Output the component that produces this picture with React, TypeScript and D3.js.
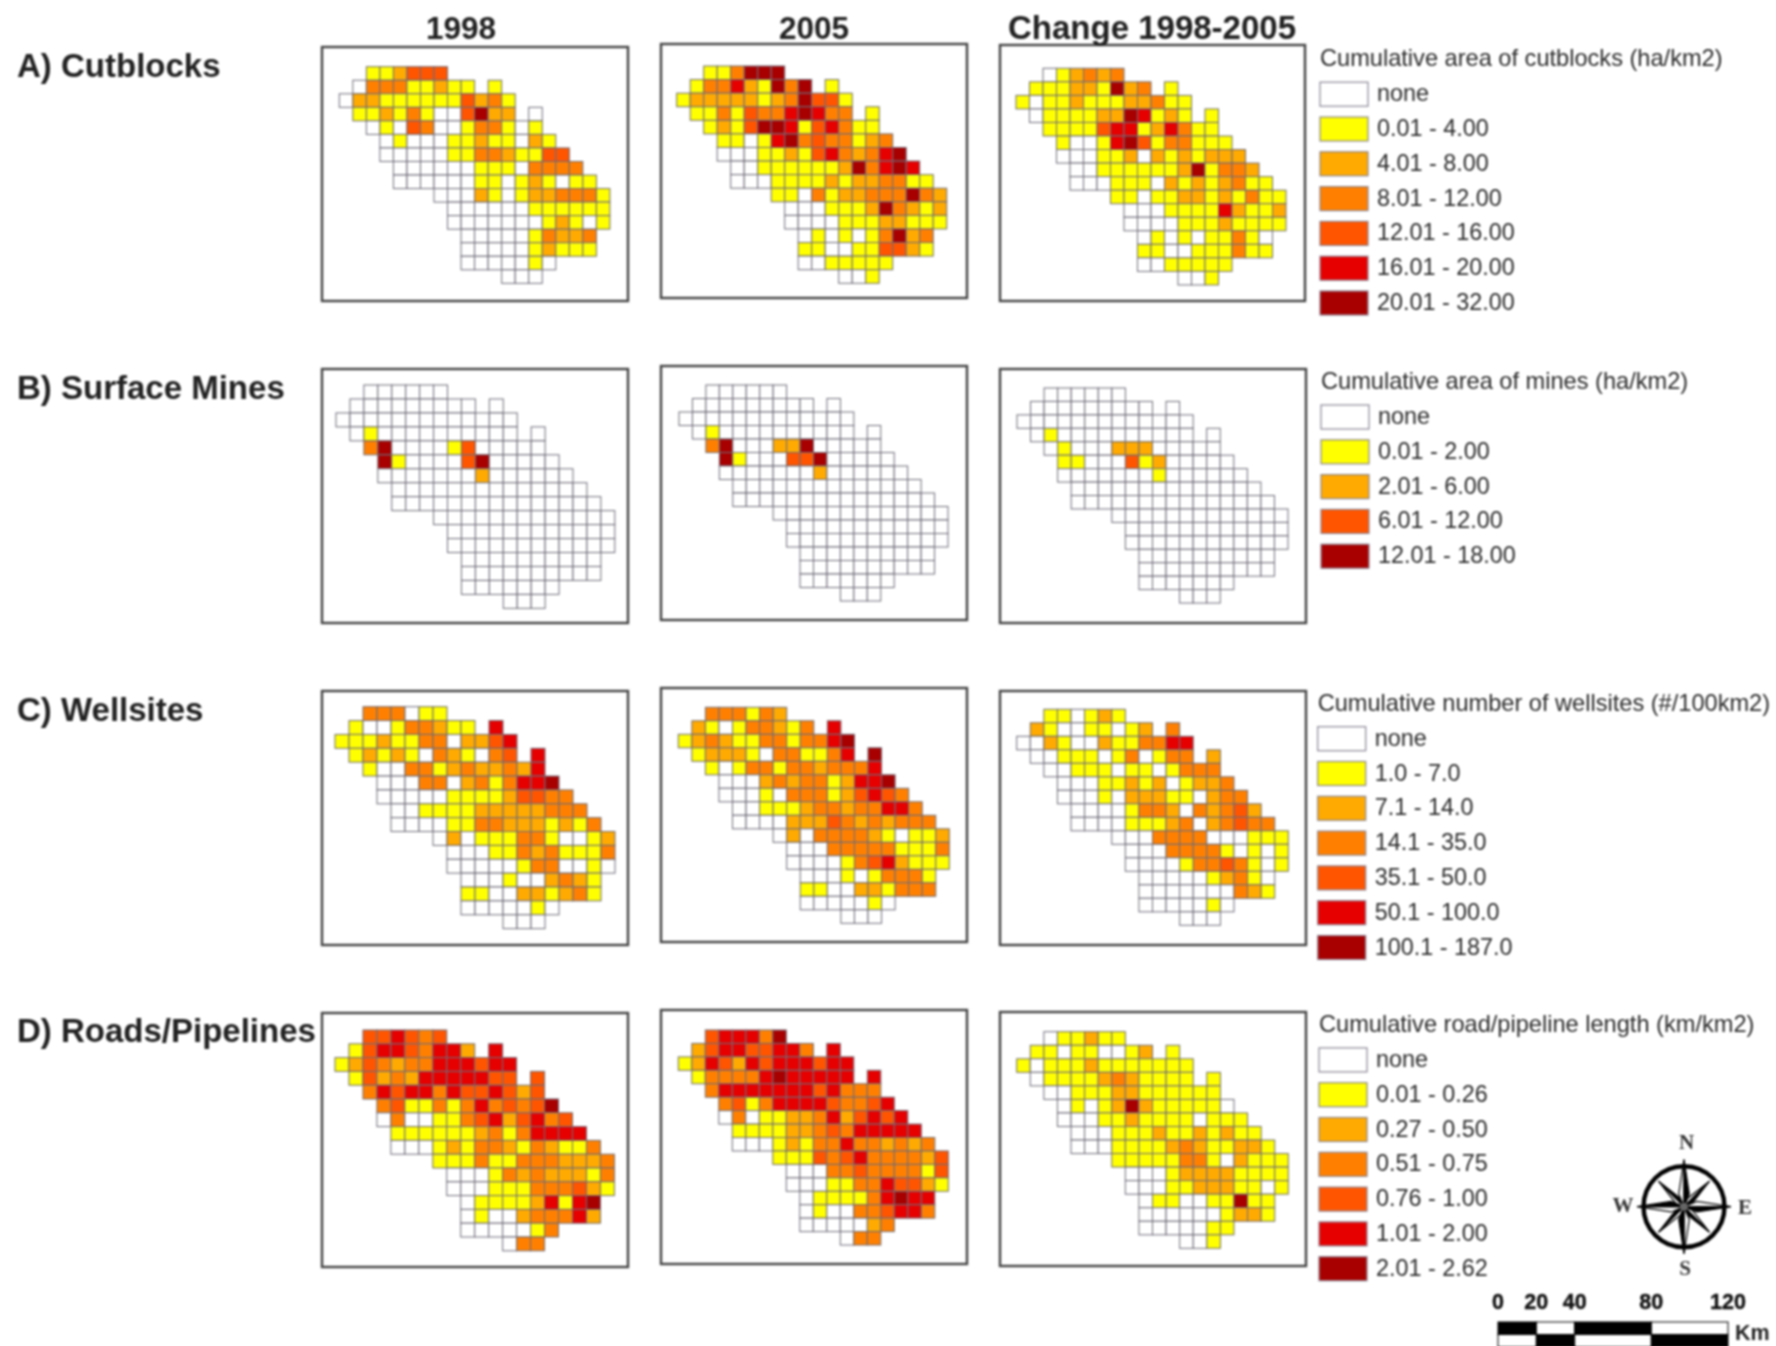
import React from "react";
import * as d3 from "d3";

// ---------- data: class of every grid cell (row string starts at rowStart[row]; "." = no cell) ----------
const rowStart = [2, 1, 0, 1, 2, 3, 3, 4, 4, 7, 8, 8, 9, 9, 9, 12];

const cutblocks1998 = ["112444","033311211.1","0221111114231","112131004622.0","0104300133101","0100011211021","00000113321144","00000011103333","000000110121011","0002101223331","000000111111","000000012101","0000013223","0000012111","0000010","000"];
const cutblocks2005 = ["113666","133521636.1","1222221236441","113143356533.1","1214665145311","1101563433123","00011214532356","00111111263565","000111121223311","1103122333632","000111263212","000011122111","0101013623","1100114421","0011111","001"];
const cutblocksChange = ["012323","111221623.1","1011211122311","011112265121.1","1111455125311","1001564133111","00011202121222","00111111261332","000111021212311","1101122121311","000111152112","000011121111","0101011310","1100111311","0011111","001"];

const mines1998 = ["000000","000000000.0","0000000000000","010000000000.0","3600001400000","6100004600000","00000002000000","00000000000000","000000000000000","0000000000000","000000000000","000000000000","0000000000","0000000000","0000000","000"];
const mines2005 = ["000000","000000000.0","0000000000000","010000000000.0","3600022600000","6100044600000","00000002000000","00000000000000","000000000000000","0000000000000","000000000000","000000000000","0000000000","0000000000","0000000","000"];
const minesChange = ["000000","000000000.0","0000000000000","010000000000.0","0100022200000","1100041200000","00000001000000","00000000000000","000000000000000","0000000000000","000000000000","000000000000","0000000000","0000000000","0000000","000"];

const wells1998 = ["333011","100133211.5","1112113302245","121210321034.5","1003312322325","0003302313556","00000111124433","00111122222333","000011332221213","0201113310012","000113231113","000001330010","0001002321","1100221231","0000010","000"];
const wells2005 = ["333132","210133213.5","1232113313356","122210331135.6","1013313323335","0002323312556","00010333124543","00111233233553","000022243232333","0203333210112","000333331113","000013452111","0001013331","1100221333","0000010","000"];
const wellsChange = ["110121","210011012.3","0021002113355","001110130133.2","0011101101333","0001121201223","00010222110233","00001332032342","000011123023433","0003333000111","000333310101","000013343101","0000012310","0000000321","0000010","000"];

const roads1998 = ["445434","145543552.5","1243233555455","142325555544.4","3545535445424","3411313534346","03001134524534","11111123135555","000121332132113","1113113332223","000132322213","000111333421","0111125156","0100233352","0000013","033"];
const roads2005 = ["455536","245544553.5","1254254555455","133335655555.5","3555555545333","3413555543345","03011223524545","11112234355555","000121335332323","1114345333324","000334333314","000113354421","0111135655","0100334553","0000023","033"];
const roadsChange = ["011211","110110012.1","1011121111111","011112321111.1","0011122111111","0101262111110","00011211110111","00011121121211","000111123211221","1111133102111","000122221111","000112221101","0110011611","0000001221","0000011","001"];

const columnTitles = ["1998", "2005", "Change 1998-2005"];
const rowTitles = ["A) Cutblocks", "B) Surface Mines", "C) Wellsites", "D) Roads/Pipelines"];

const classColors = ["#ffffff", "#ffff00", "#ffaa00", "#ff8000", "#ff5500", "#e60000", "#a80000"];

const legendCutblocks = ["none", "0.01 - 4.00", "4.01 - 8.00", "8.01 - 12.00", "12.01 - 16.00", "16.01 - 20.00", "20.01 - 32.00"];
const legendMines = ["none", "0.01 - 2.00", "2.01 - 6.00", "6.01 - 12.00", "12.01 - 18.00"];
const legendWells = ["none", "1.0 - 7.0", "7.1 - 14.0", "14.1 - 35.0", "35.1 - 50.0", "50.1 - 100.0", "100.1 - 187.0"];
const legendRoads = ["none", "0.01 - 0.26", "0.27 - 0.50", "0.51 - 0.75", "0.76 - 1.00", "1.01 - 2.00", "2.01 - 2.62"];
const mineClasses = [0, 1, 2, 4, 6];

const scaleTicks = [0, 20, 40, 80, 120];
const scaleSegments = [[0, 20], [20, 40], [40, 80], [80, 120]];

// ---------- layout ----------
type Panel = { cells: string[]; f: number[]; gx: number; gy: number; w: number; h: number };
const panels: Panel[] = [
  { cells: cutblocks1998, f: [322, 47, 628, 301], gx: 339.3, gy: 66.7, w: 13.53, h: 13.54 },
  { cells: cutblocks2005, f: [661, 44, 967, 298], gx: 676.7, gy: 66, w: 13.5, h: 13.58 },
  { cells: cutblocksChange, f: [1000, 45, 1305, 301], gx: 1016, gy: 68.3, w: 13.5, h: 13.54 },
  { cells: mines1998, f: [322, 369, 628, 623], gx: 336, gy: 385, w: 13.94, h: 13.96 },
  { cells: mines2005, f: [661, 366, 967, 620], gx: 679, gy: 385, w: 13.45, h: 13.5 },
  { cells: minesChange, f: [1000, 369, 1306, 623], gx: 1017, gy: 388, w: 13.55, h: 13.44 },
  { cells: wells1998, f: [322, 691, 628, 945], gx: 335, gy: 706.7, w: 14, h: 13.87 },
  { cells: wells2005, f: [661, 688, 967, 942], gx: 678.3, gy: 707.3, w: 13.55, h: 13.5 },
  { cells: wellsChange, f: [1000, 691, 1306, 945], gx: 1016.7, gy: 709.3, w: 13.58, h: 13.5 },
  { cells: roads1998, f: [322, 1013, 628, 1267], gx: 335, gy: 1030, w: 13.97, h: 13.8 },
  { cells: roads2005, f: [661, 1010, 967, 1264], gx: 678.3, gy: 1030, w: 13.5, h: 13.44 },
  { cells: roadsChange, f: [1000, 1012, 1306, 1266], gx: 1016.7, gy: 1031.7, w: 13.58, h: 13.54 },
];

const columnCenters = [461, 814, 1152];
const columnSizes = [31.5, 31.5, 33];
const rowBaselines = [76.5, 399, 720.5, 1041.5];

const legends = [
  { title: "Cumulative area of cutblocks (ha/km2)", labels: legendCutblocks, classes: d3.range(7), dx: 0, dy: 0 },
  { title: "Cumulative area of mines (ha/km2)", labels: legendMines, classes: mineClasses, dx: 1, dy: 322.8 },
  { title: "Cumulative number of wellsites (#/100km2)", labels: legendWells, classes: d3.range(7), dx: -2.3, dy: 644.5 },
  { title: "Cumulative road/pipeline length (km/km2)", labels: legendRoads, classes: d3.range(7), dx: -1, dy: 965.7 },
];

const SANS = "'Liberation Sans', Arial, sans-serif";
const SERIF = "'Liberation Serif', serif";
const color = d3.scaleOrdinal<number, string>().domain(d3.range(7)).range(classColors);

function MapPanel({ p }: { p: Panel }) {
  const x = d3.scaleLinear().domain([0, 20]).range([p.gx, p.gx + 20 * p.w]);
  const y = d3.scaleLinear().domain([0, 16]).range([p.gy, p.gy + 16 * p.h]);
  const marks: { c: number; r: number; v: number }[] = [];
  p.cells.forEach((row, r) => {
    row.split("").forEach((ch, i) => {
      if (ch !== ".") marks.push({ c: rowStart[r] + i, r, v: +ch });
    });
  });
  return (
    <g>
      <rect x={p.f[0]} y={p.f[1]} width={p.f[2] - p.f[0]} height={p.f[3] - p.f[1]} fill="#fff" stroke="#444" strokeWidth={2.4} />
      {marks.map((m) => (
        <rect
          key={m.r + "-" + m.c}
          x={x(m.c)}
          y={y(m.r)}
          width={p.w}
          height={p.h}
          fill={color(m.v)}
          stroke="#6f6c78"
          strokeWidth={1}
        />
      ))}
    </g>
  );
}

function Legend({ l }: { l: (typeof legends)[number] }) {
  const y = d3.scaleLinear().domain([0, 1]).range([82.2 + l.dy, 117 + l.dy]);
  return (
    <g fontFamily={SANS} fill="#2b2b2b">
      <text x={1320 + l.dx} y={66 + l.dy} fontSize={23.6}>{l.title}</text>
      {l.labels.map((t, i) => (
        <g key={t}>
          <rect x={1320 + l.dx} y={y(i)} width={48} height={24} fill={color(l.classes[i])} stroke="#8a8694" strokeWidth={1.2} />
          <text x={1377 + l.dx} y={y(i) + 19} fontSize={23.4}>{t}</text>
        </g>
      ))}
    </g>
  );
}

function Compass() {
  const cx = 1684, cy = 1206.7;
  const pt = (deg: number, r: number) => {
    const a = ((deg - 90) * Math.PI) / 180;
    return [cx + r * Math.cos(a), cy + r * Math.sin(a)];
  };
  const poly = (pts: number[][]) => pts.map((q) => q.join(",")).join(" ");
  const diag = [45, 135, 225, 315];
  const main = [0, 90, 180, 270];
  return (
    <g>
      <circle cx={cx} cy={cy} r={40.5} fill="#fff" stroke="#000" strokeWidth={4.4} />
      {diag.map((d) => (
        <g key={d}>
          <polygon points={poly([pt(d, 36), pt(d - 22, 9), [cx, cy]])} fill="#fff" stroke="#000" strokeWidth={1.2} />
          <polygon points={poly([pt(d, 36), pt(d + 22, 9), [cx, cy]])} fill="#000" stroke="#000" strokeWidth={1.2} />
        </g>
      ))}
      {main.map((d) => (
        <g key={d}>
          <polygon points={poly([pt(d, 47), pt(d - 22, 14), [cx, cy]])} fill="#fff" stroke="#000" strokeWidth={1.2} />
          <polygon points={poly([pt(d, 47), pt(d + 22, 14), [cx, cy]])} fill="#000" stroke="#000" strokeWidth={1.2} />
        </g>
      ))}
      <circle cx={cx} cy={cy} r={4} fill="#666" />
      <g fontFamily={SERIF} fontSize={21} fontWeight={700} fill="#333" textAnchor="middle">
        <text x={1686.5} y={1149}>N</text>
        <text x={1685} y={1275}>S</text>
        <text x={1623} y={1212}>W</text>
        <text x={1745} y={1214}>E</text>
      </g>
    </g>
  );
}

function ScaleBar() {
  const x = d3.scaleLinear().domain([0, 120]).range([1498, 1728]);
  return (
    <g>
      {scaleTicks.map((t) => (
        <text key={t} x={x(t)} y={1309} textAnchor="middle" fontFamily={SANS} fontWeight={700} fontSize={21.5} fill="#111" stroke="#111" strokeWidth={0.4}>{t}</text>
      ))}
      {scaleSegments.map((s, i) => (
        <g key={i}>
          <rect x={x(s[0])} y={1322} width={x(s[1]) - x(s[0])} height={12.5} fill={i % 2 === 0 ? "#000" : "#fff"} stroke="#000" strokeWidth={1} />
          <rect x={x(s[0])} y={1334.5} width={x(s[1]) - x(s[0])} height={12.5} fill={i % 2 === 0 ? "#fff" : "#000"} stroke="#000" strokeWidth={1} />
        </g>
      ))}
      <text x={1735} y={1340} fontFamily={SANS} fontWeight={700} fontSize={21.5} fill="#222">Km</text>
    </g>
  );
}

export default function App() {
  return (
    <svg width={1776} height={1346} viewBox="0 0 1776 1346" style={{ position: "absolute", left: 0, top: 0, background: "#fff" }}>
      <defs>
        <filter id="soft" filterUnits="userSpaceOnUse" x={0} y={0} width={1776} height={1346} colorInterpolationFilters="sRGB">
          <feGaussianBlur stdDeviation={1} />
        </filter>
      </defs>
      <g filter="url(#soft)">
        {panels.map((p, i) => <MapPanel key={i} p={p} />)}
        {legends.map((l) => <Legend key={l.title} l={l} />)}
        <Compass />
        <ScaleBar />
        <g fontFamily={SANS} fontWeight={700} fill="#222">
          {columnTitles.map((t, i) => (
            <text key={t} x={columnCenters[i]} y={38.5} fontSize={columnSizes[i]} textAnchor="middle">{t}</text>
          ))}
          {rowTitles.map((t, i) => (
            <text key={t} x={17} y={rowBaselines[i]} fontSize={33}>{t}</text>
          ))}
        </g>
      </g>
    </svg>
  );
}
